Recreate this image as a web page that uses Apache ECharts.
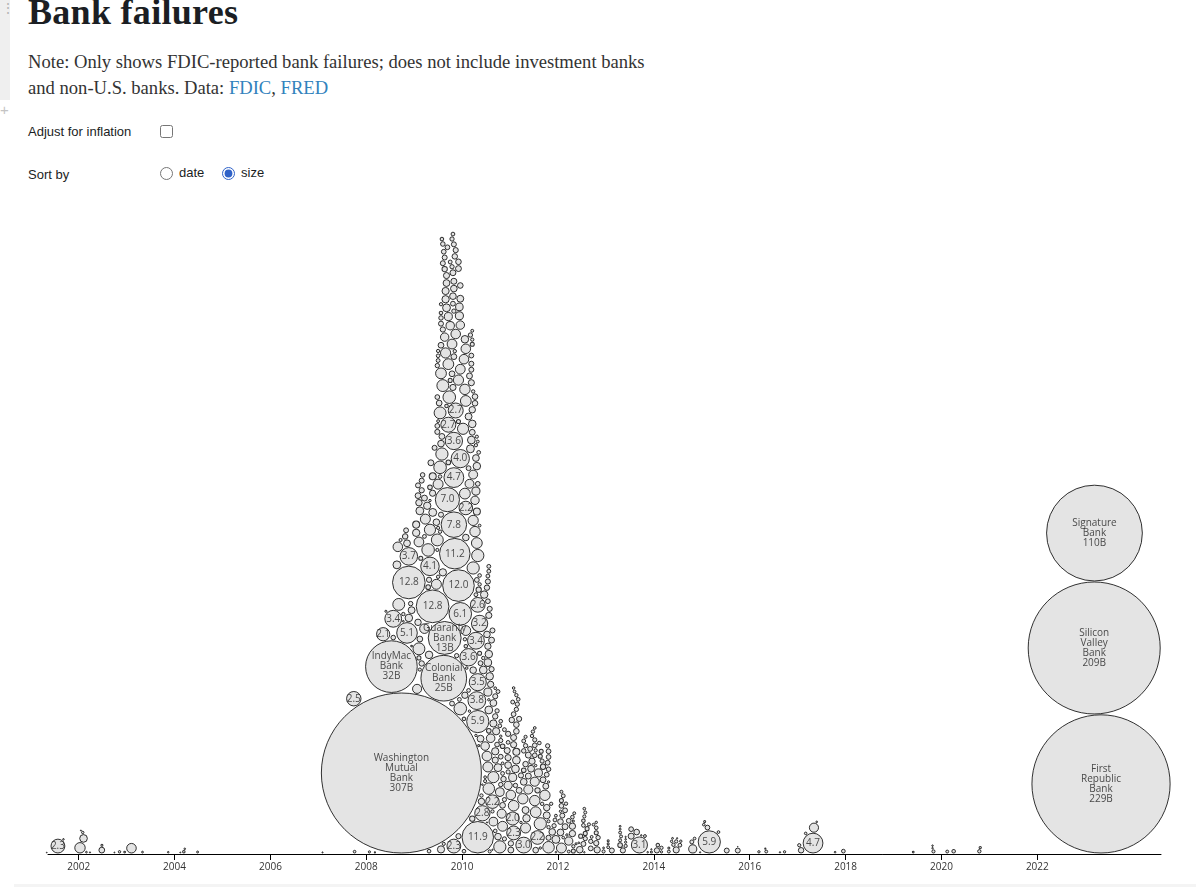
<!DOCTYPE html>
<html>
<head>
<meta charset="utf-8">
<title>Bank failures</title>
<script src="https://cdn.jsdelivr.net/npm/echarts@6/dist/echarts.min.js"></script>
<style>
  html, body { margin: 0; padding: 0; background: #fff; }
  body { width: 1196px; height: 887px; overflow: hidden; position: relative; color: #1b1e23; }
  .gutter { position: absolute; left: 0; top: 0; width: 10px; height: 100px; background: #efefef; }
  .dots { position: absolute; left: 1px; top: 0px; font: 14px "Liberation Sans", sans-serif; color: #b5b5b5; line-height: 16px; }
  .plus { position: absolute; left: 0px; top: 101px; font: 15px "Liberation Sans", sans-serif; color: #c4c4c4; }
  h1 { position: absolute; left: 28px; top: -9px; margin: 0; font: bold 36px "Liberation Serif", serif; line-height: 42px; color: #1b1e23; letter-spacing: 0.3px; }
  .note { position: absolute; left: 28px; top: 49px; margin: 0; font: 18.6px "Liberation Serif", serif; line-height: 26px; color: #333; }
  .note a { color: #3182bd; text-decoration: none; }
  .row { position: absolute; left: 28px; font: 13px "Liberation Sans", Arial, sans-serif; color: #1b1e23; }
  .row .lbl { position: absolute; left: 0; top: 0; white-space: nowrap; }
  .row input { position: absolute; margin: 0; width: 13px; height: 13px; accent-color: #2f62c8; }
  .row .opt { position: absolute; top: -2px; white-space: nowrap; }
  .band { position: absolute; left: 14px; top: 884px; width: 1182px; height: 3px; background: #f4f4f4; }
  #chart { position: absolute; left: 0; top: 190px; width: 1196px; height: 697px; }
</style>
</head>
<body>
<div class="gutter"></div>
<div class="dots">&#8942;</div>
<div class="plus">+</div>
<h1>Bank failures</h1>
<p class="note">Note: Only shows FDIC-reported bank failures; does not include investment banks<br>and non-U.S. banks. Data: <a href="#">FDIC</a>, <a href="#">FRED</a></p>
<div class="row" style="top:124px;">
  <span class="lbl">Adjust for inflation</span>
  <input type="checkbox" style="left:132px; top:1px;">
</div>
<div class="row" style="top:167px;">
  <span class="lbl">Sort by</span>
  <input type="radio" name="sort" style="left:132px; top:0px;">
  <span class="opt" style="left:151px;">date</span>
  <input type="radio" name="sort" checked style="left:194px; top:0px;">
  <span class="opt" style="left:213px;">size</span>
</div>
<div class="band"></div>
<div id="chart"></div>
<script>
// FDIC-reported failures: [month, day, total assets in $B, optional bank name]
const f2001 = [[5,3,0.0086],[7,27,2.3],[9,7,0.03]];
const f2002 = [[1,11,1.3],[1,18,0.012],[2,1,0.07],[2,7,0.7],[3,1,0.036],[3,28,0.017],[6,26,0.4],[6,27,0.05],[9,30,0.012],[11,8,0.07],[12,17,0.037]];
const f2003 = [[2,7,1.1],[5,2,0.04],[11,14,0.03]];
const f2004 = [[2,14,0.013],[3,12,0.077],[3,19,0.03],[6,25,0.047]];
const f2007 = [[2,2,0.016],[9,28,2.5],[10,4,0.086]];
const f2008 = [[1,25,0.058],[3,7,0.018],[5,9,2.1],[5,30,0.054],[7,11,32,"IndyMac Bank"],[7,25,3.4],[7,25,0.254],[8,22,0.752],[8,29,1.1],[9,5,1.7],[9,19,0.115],[9,25,307,"Washington Mutual Bank"],[10,10,0.14],[10,10,0.039],[10,24,0.354],[10,31,0.287],[11,7,5.1],[11,7,0.561],[11,21,12.77],[11,21,3.7],[11,21,0.681],[12,5,0.237],[12,12,0.573],[12,12,0.037]];
const f2009 = [
  [1,16,0.6],[1,16,0.65],[1,23,1.0],[1,30,0.3],[1,30,0.5],[1,30,0.4],
  [2,6,0.5],[2,6,1.14],[2,6,1.7],[2,6,0.2],[2,13,0.75],[2,13,0.4],[2,13,0.12],[2,20,0.2],[2,27,0.33],[2,27,0.35],[2,27,0.3],
  [3,6,0.25],[3,20,0.42],[3,20,0.18],[3,20,1.1],[3,27,1.2],
  [4,10,0.65],[4,17,1.9],[4,17,0.26],[4,24,0.33],[4,24,0.16],[4,24,0.68],
  [5,1,0.26],[5,1,1.5],[5,1,4.1],[5,1,0.07],[5,8,0.42],[5,21,12.84],[5,21,0.46],[5,22,0.6],[5,22,0.75],
  [6,5,0.3],[6,19,1.2],[6,19,0.53],[6,26,0.23],[6,26,0.28],[6,26,0.31],[6,26,0.27],[6,26,0.12],[6,26,1.7],
  [7,2,0.14],[7,2,0.12],[7,2,0.16],[7,2,0.13],[7,2,1.2],[7,2,0.18],[7,2,0.1],[7,10,0.4],[7,17,1.7],[7,17,1.9],[7,17,0.16],[7,17,0.14],
  [7,24,0.13],[7,24,1.4],[7,24,0.53],[7,24,0.62],[7,24,0.4],[7,24,0.31],[7,24,0.3],[7,24,0.15],[7,24,0.24],[7,31,1.8],[7,31,0.15],[7,31,0.41],
  [8,7,0.3],[8,7,0.64],[8,7,0.25],[8,7,1.7],[8,7,0.33],[8,14,25,"Colonial Bank"],[8,14,0.27],[8,14,0.12],[8,21,13,"Guaranty Bank"],[8,21,0.85],[8,21,0.34],[8,21,0.3],[8,28,1.25],[8,28,0.64],[8,28,0.62],
  [9,4,0.15],[9,4,0.45],[9,4,0.74],[9,4,0.56],[9,11,7.0],[9,11,0.27],[9,18,2.7],[9,18,0.78],[9,18,1.4],[9,18,0.26],[9,25,1.9],
  [10,2,0.86],[10,2,0.2],[10,2,0.18],[10,16,1.15],[10,16,0.22],[10,16,0.22],[10,16,0.28],[10,16,0.4],[10,23,0.28],[10,23,0.46],[10,23,0.53],[10,23,0.42],[10,23,0.17],
  [10,30,7.8],[10,30,3.6],[10,30,2.3],[10,30,4.7],[10,30,0.22],[10,30,0.53],[10,30,0.43],[10,30,0.3],[10,30,0.4],
  [11,6,11.2],[11,6,0.36],[11,6,0.14],[11,13,2.7],[11,13,1.1],[11,13,0.32],[11,20,0.22],
  [12,4,12.0],[12,4,0.42],[12,4,0.38],[12,4,0.2],[12,4,0.32],[12,4,1.25],[12,11,0.8],[12,11,0.18],[12,11,0.69],
  [12,18,6.1],[12,18,4.0],[12,18,1.15],[12,18,1.9],[12,18,0.38],[12,18,0.87],[12,18,0.57]
];
const f2010 = [
  [1,8,1.5],[1,15,1.1],[1,15,0.15],[1,15,0.16],[1,22,1.3],[1,22,0.68],[1,22,1.4],[1,22,0.14],[1,22,0.49],[1,29,2.2],[1,29,1.4],[1,29,0.15],[1,29,1.15],[1,29,1.1],[1,29,0.52],
  [2,5,0.08],[2,19,3.6],[2,19,0.57],[2,19,0.17],[2,19,0.28],[2,26,0.07],[2,26,0.95],[2,26,0.42],
  [3,5,0.75],[3,5,0.23],[3,12,0.3],[3,12,0.45],[3,12,0.72],[3,12,0.3],[3,12,0.28],[3,19,0.34],[3,19,0.7],[3,19,0.41],[3,19,0.13],[3,19,0.5],[3,19,0.1],[3,19,0.2],[3,26,0.53],[3,26,1.25],[3,26,1.8],[3,26,0.14],[3,26,0.95],
  [4,9,1.3],[4,9,0.85],[4,9,0.38],[4,9,0.38],[4,16,3.4],[4,16,0.13],[4,16,0.55],[4,16,0.07],[4,16,0.8],[4,16,0.18],[4,23,3.8],[4,23,1.4],[4,23,0.68],[4,23,0.12],[4,23,0.6],[4,23,0.28],[4,30,11.9],[4,30,5.9],[4,30,2.6],[4,30,3.5],[4,30,0.1],[4,30,0.27],[4,30,1.8],
  [5,7,0.05],[5,7,0.34],[5,7,0.17],[5,14,3.2],[5,14,0.14],[5,14,0.16],[5,14,0.2],[5,14,0.09],[5,21,0.28],[5,21,0.56],[5,28,0.5],[5,28,0.14],
  [6,4,2.8],[6,4,0.03],[6,11,0.72],[6,11,0.14],[6,18,0.67],[6,25,0.88],[6,25,0.09],[6,25,0.12],
  [7,9,1.15],[7,9,0.35],[7,9,0.02],[7,9,0.52],[7,16,0.78],[7,16,0.48],[7,16,1.2],[7,16,0.69],[7,16,0.31],[7,16,0.18],[7,16,0.27],[7,23,1.6],[7,23,0.74],[7,23,0.26],[7,23,0.07],[7,23,0.18],[7,23,0.18],[7,23,0.46],[7,23,0.68],[7,30,0.68],[7,30,0.12],[7,30,0.31],
  [8,6,0.88],[8,6,0.48],[8,13,0.33],[8,13,0.42],[8,20,2.2],[8,20,0.02],[8,20,0.3],[8,20,0.13],[8,27,0.62],[8,27,1.5],[8,27,0.91],[8,27,0.56],
  [9,10,0.09],[9,10,0.64],[9,10,0.46],[9,10,0.31],[9,10,0.16],[9,10,0.35],[9,17,0.64],[9,24,0.27],[9,24,0.22],
  [10,1,0.18],[10,1,0.75],[10,1,0.53],[10,15,1.8],[10,15,0.17],[10,15,0.91],[10,22,0.27],[10,22,0.23],[10,22,0.07],[10,22,0.21],[10,22,0.16],[10,29,0.98],
  [11,5,0.18],[11,5,0.09],[11,5,0.4],[11,5,0.26],[11,5,1.17],[11,12,0.36],[11,19,0.21],[11,19,0.18],[11,19,0.21],
  [12,10,0.44],[12,17,0.82],[12,17,0.46],[12,17,0.21],[12,17,0.33],[12,17,0.55],[12,17,0.17]
];
const f2011 = [
  [1,7,1.1],[1,7,0.42],[1,7,0.35],[1,14,0.36],[1,21,2.04],[1,21,0.8],[1,21,0.18],[1,28,2.3],[1,28,1.35],[1,28,0.46],[1,28,0.08],[1,28,0.44],[1,28,0.27],
  [2,4,0.09],[2,11,0.72],[2,11,0.23],[2,18,0.72],[2,18,0.38],[2,18,0.14],[2,18,0.6],[2,18,0.22],[2,18,0.38],[2,25,0.22],
  [3,4,0.16],[3,11,0.32],[3,11,0.42],[3,25,0.07],[3,25,0.32],
  [4,8,1.3],[4,15,3.0],[4,15,0.55],[4,15,0.24],[4,15,0.26],[4,15,0.18],[4,29,0.12],[4,29,0.59],[4,29,0.37],[4,29,1.2],[4,29,0.22],
  [5,6,0.67],[5,20,0.43],[5,20,0.43],[5,20,1.0],
  [6,3,0.29],[6,10,0.56],[6,17,0.14],[6,17,0.48],[6,24,0.14],
  [7,8,1.0],[7,8,0.27],[7,8,0.27],[7,8,0.21],[7,8,1.3],[7,8,0.09],[7,15,0.13],[7,15,1.4],[7,15,0.39],[7,15,0.07],[7,29,2.24],[7,29,0.34],
  [8,5,0.77],[8,12,0.15],[8,19,0.07],[8,19,0.2],[8,19,1.8],[8,26,0.2],
  [9,2,0.14],[9,2,0.21],[9,9,0.34],[9,9,0.41],[9,23,1.3],[9,30,0.42],
  [10,7,0.28],[10,7,0.5],[10,7,0.59],[10,14,0.28],[10,14,0.22],[10,21,1.6],[10,21,0.25],[10,21,0.27],[10,21,0.31],[10,21,0.27],[10,21,0.11],[10,21,0.14],[10,21,0.06],
  [11,10,0.13],[11,18,0.53],
  [12,2,0.22],[12,9,0.18],[12,16,0.1],[12,16,0.03],[12,16,0.76]
];
const f2012 = [
  [1,20,0.38],[1,20,0.54],[1,20,0.07],[1,27,1.19],[1,27,0.27],[1,27,0.11],[1,27,0.2],
  [2,3,0.3],[2,10,0.18],[2,10,0.09],[2,24,0.28],[2,24,0.43],
  [3,2,0.14],[3,9,0.07],[3,23,0.1],[3,23,0.27],[3,23,0.82],
  [4,20,0.48],[4,20,0.16],[4,20,0.49],[4,27,0.13],[4,27,0.05],[4,27,0.2],
  [5,4,0.1],[5,18,0.05],
  [6,8,0.04],[6,15,0.53],[6,22,0.2],
  [7,13,0.17],[7,13,0.15],[7,13,0.3],[7,20,0.12],[7,20,0.09],[7,20,0.025],[7,27,0.11],[7,27,0.22],[7,27,0.2],
  [8,10,0.2],[8,24,0.12],
  [9,7,0.28],[9,7,0.22],[9,14,0.1],[9,28,0.09],
  [10,19,0.2],[10,19,0.07],[10,19,0.16],[10,19,0.33],[10,26,0.48],
  [11,2,0.23],
  [12,14,0.04],[12,14,0.12]
];
const f2013 = [[1,18,0.05],[1,18,0.05],[1,18,0.1],[2,15,0.3],[4,19,0.04],[4,19,0.11],[4,19,0.1],[4,19,0.045],[4,19,0.26],[4,26,0.11],[5,10,0.32],[5,31,0.13],[5,31,0.03],[5,31,0.06],[5,31,0.02],[7,12,0.44],[7,12,0.27],[8,23,0.39],[9,13,3.1],[9,27,0.026],[10,25,0.1],[11,15,0.03],[12,13,0.05],[12,13,0.02]];
const f2014 = [[1,24,0.33],[1,31,0.15],[2,28,0.06],[2,28,0.13],[4,25,0.05],[4,25,0.1],[5,16,0.07],[5,23,0.04],[5,30,0.14],[6,20,0.46],[6,20,0.13],[6,27,0.02],[7,18,0.17],[7,25,0.07],[10,17,0.19],[10,24,0.8],[11,7,0.09],[12,19,0.02]];
const f2015 = [[1,16,0.08],[1,23,0.05],[2,13,0.27],[2,27,5.9],[5,8,0.09],[7,10,0.29],[10,2,0.29],[10,2,0.005]];
const f2016 = [[3,11,0.067],[4,29,0.018],[5,6,0.1],[8,19,0.022],[9,23,0.066]];
const f2017 = [[1,13,0.126],[1,27,0.361],[3,3,0.08],[4,28,4.7],[5,5,1.0],[5,26,0.034],[10,13,0.034],[12,15,0.166]];
const f2019 = [[5,31,0.037],[10,25,0.029],[10,25,0.027],[11,1,0.12]];
const f2020 = [[2,14,0.1],[4,3,0.15],[10,16,0.137],[10,23,0.065]];
const f2023 = [[3,10,209,"Silicon Valley Bank"],[3,12,110,"Signature Bank"],[5,1,229,"First Republic Bank"]];

const yearLists = [
  [2001, f2001], [2002, f2002], [2003, f2003], [2004, f2004], [2007, f2007], [2008, f2008],
  [2009, f2009], [2010, f2010], [2011, f2011], [2012, f2012], [2013, f2013], [2014, f2014],
  [2015, f2015], [2016, f2016], [2017, f2017], [2019, f2019], [2020, f2020], [2023, f2023]
];
const tickYears = [2002, 2004, 2006, 2008, 2010, 2012, 2014, 2016, 2018, 2020, 2022];
const X_MIN = 2001.36, X_MAX = 2024.58;

// radius of the largest bubble in pixels (sqrt scale on assets)
const R_MAX = 80;
const PAD = 1;

function decimalYear(y, m, d) {
  const t0 = Date.UTC(y, 0, 1), t1 = Date.UTC(y + 1, 0, 1);
  return y + (Date.UTC(y, m - 1, d) - t0) / (t1 - t0);
}

const rows = [];
for (const [yr, list] of yearLists) {
  for (const [m, d, assets, name] of list) {
    rows.push({ t: decimalYear(yr, m, d), assets, name });
  }
}
const maxAssets = Math.max(...rows.map(r => r.assets));

const chart = echarts.init(document.getElementById('chart'), null, { renderer: 'canvas' });
const GRID = { left: 48, right: 35, top: 10, bottom: 33 };
const PLOT_H = 697 - GRID.top - GRID.bottom;

const axisFont = '"Open Sans", "Liberation Sans", sans-serif';
chart.setOption({
  animation: false,
  grid: GRID,
  xAxis: {
    type: 'value', min: X_MIN, max: X_MAX,
    axisLine: { show: true, onZero: false, lineStyle: { color: '#000', width: 1 } },
    axisTick: { show: true, length: 6, lineStyle: { color: '#000' }, customValues: tickYears },
    axisLabel: { customValues: tickYears, formatter: v => String(Math.round(v)), fontSize: 10, color: '#333', margin: 8, fontFamily: axisFont },
    splitLine: { show: false }
  },
  yAxis: { type: 'value', min: 0, max: PLOT_H, show: false, splitLine: { show: false } },
  series: []
});

// Dodge: place each circle at its date, as low as possible without overlapping
// circles already placed (largest first).
const baseline = chart.convertToPixel({ yAxisIndex: 0 }, 0);
const items = rows.map(r => ({
  ...r,
  px: chart.convertToPixel({ xAxisIndex: 0 }, r.t),
  r: R_MAX * Math.sqrt(r.assets / maxAssets)
}));
const order = items.slice().sort((a, b) => b.r - a.r);
const placed = [];
for (const it of order) {
  const y0 = it.r + PAD;
  const cands = [0];
  const ivs = [];
  for (const p of placed) {
    const dx = it.px - p.px;
    const dr = PAD + it.r + p.r;
    if (Math.abs(dx) >= dr) continue;
    const dy = Math.sqrt(dr * dr - dx * dx);
    const yj = p.h - y0;
    ivs.push([yj - dy, yj + dy]);
    cands.push(yj - dy, yj + dy);
  }
  cands.sort((a, b) => a - b);
  let best = 0;
  for (const c of cands) {
    if (c < 0) continue;
    let blocked = false;
    for (const [lo, hi] of ivs) {
      if (lo + 1e-6 < c && c < hi - 1e-6) { blocked = true; break; }
    }
    if (!blocked) { best = c; break; }
  }
  it.h = best + y0;
  placed.push(it);
}

function labelText(d) {
  if (d.name) return d.name.split(' ').join('\n') + '\n' + Math.round(d.assets) + 'B';
  if (d.assets >= 2) return d.assets.toFixed(1);
  return '';
}

const circleData = order.map(d => ({
  value: [d.t, chart.convertFromPixel({ yAxisIndex: 0 }, baseline - d.h)],
  symbolSize: 2 * d.r
}));
const labelData = order.filter(d => labelText(d) !== '').map(d => ({
  value: [d.t, chart.convertFromPixel({ yAxisIndex: 0 }, baseline - d.h)],
  label: { formatter: labelText(d) }
}));

chart.setOption({
  series: [{
    type: 'scatter',
    clip: false,
    symbol: 'circle',
    data: circleData,
    z: 2,
    itemStyle: { color: '#dddddd', borderColor: '#000', borderWidth: 1 },
    emphasis: { disabled: true },
    silent: true
  }, {
    type: 'scatter',
    clip: false,
    symbol: 'circle',
    symbolSize: 1,
    data: labelData,
    zlevel: 1,
    z: 5,
    itemStyle: { color: 'rgba(0,0,0,0)', borderWidth: 0 },
    label: {
      show: true, position: 'inside', fontSize: 10, lineHeight: 10,
      color: '#222', fontFamily: axisFont, overflow: 'none', width: 120, align: 'center'
    },
    labelLayout: { hideOverlap: false },
    emphasis: { disabled: true },
    silent: true
  }]
});
</script>
</body>
</html>
